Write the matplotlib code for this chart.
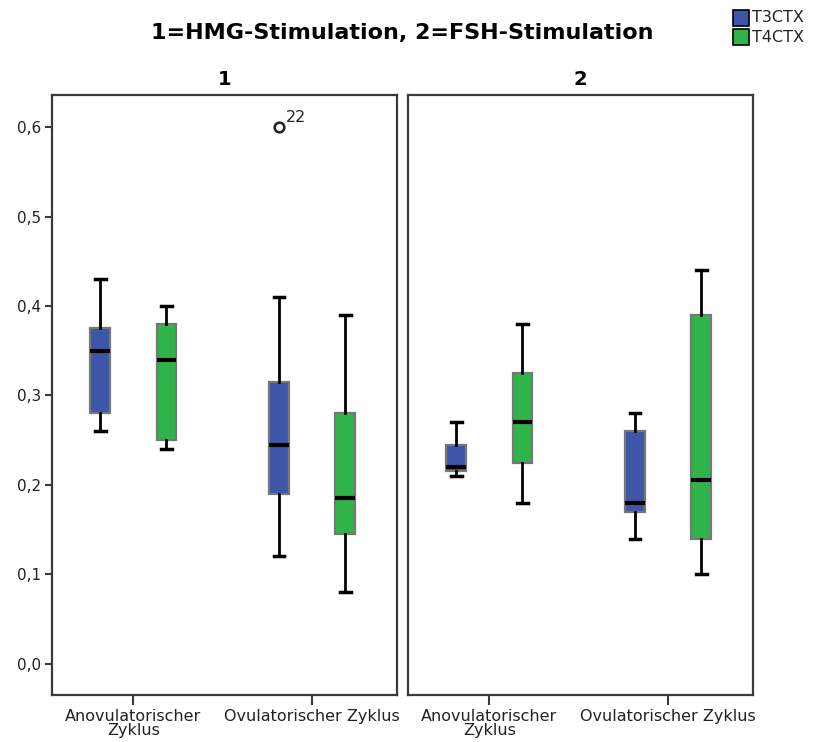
import matplotlib
matplotlib.use("Agg")
import matplotlib.pyplot as plt
from matplotlib.patches import Rectangle

plt.rcParams['font.family'] = ['DejaVu Sans']

# five-number summaries per panel: (whisker low, Q1, median, Q3, whisker high)
categories = ["Anovulatorischer\nZyklus", "Ovulatorischer Zyklus"]
series = ["T3CTX", "T4CTX"]
colors = {"T3CTX": "#3D56A8", "T4CTX": "#30B44A"}

hmg_t3 = [(0.26, 0.28, 0.35, 0.375, 0.43), (0.12, 0.19, 0.245, 0.315, 0.41)]
hmg_t4 = [(0.24, 0.25, 0.34, 0.38, 0.40), (0.08, 0.145, 0.185, 0.28, 0.39)]
fsh_t3 = [(0.21, 0.215, 0.22, 0.245, 0.27), (0.14, 0.17, 0.18, 0.26, 0.28)]
fsh_t4 = [(0.18, 0.225, 0.27, 0.325, 0.38), (0.10, 0.14, 0.205, 0.39, 0.44)]

# outliers: (panel, category index, series, value, case label)
outliers = [(0, 1, "T3CTX", 0.60, "22")]

panels = [("1", {"T3CTX": hmg_t3, "T4CTX": hmg_t4}),
          ("2", {"T3CTX": fsh_t3, "T4CTX": fsh_t4})]

W, H = 836, 742
fig = plt.figure(figsize=(W / 100, H / 100), dpi=100)

offsets = {"T3CTX": -0.185, "T4CTX": 0.185}
edge = "#3a3a3a"
txt = "#222222"

axes = []
for p, (ptitle, data) in enumerate(panels):
    left = (52 if p == 0 else 408) / W
    ax = fig.add_axes([left, 47 / H, 345 / W, 600 / H])
    axes.append(ax)
    for s in series:
        stats = []
        for c in range(len(categories)):
            lo, q1, med, q3, hi = data[s][c]
            fl = [o[3] for o in outliers if o[0] == p and o[1] == c and o[2] == s]
            stats.append(dict(whislo=lo, q1=q1, med=med, q3=q3, whishi=hi, fliers=fl))
        pos = [c + offsets[s] for c in range(len(categories))]
        ax.bxp(stats, positions=pos, widths=0.11, capwidths=0.06, patch_artist=True,
               manage_ticks=False,
               boxprops=dict(facecolor=colors[s], edgecolor="#777777", linewidth=1.6),
               medianprops=dict(color="black", linewidth=3, solid_capstyle="butt"),
               whiskerprops=dict(color="black", linewidth=2),
               capprops=dict(color="black", linewidth=2.5),
               flierprops=dict(marker="o", markerfacecolor="white", markeredgecolor=txt,
                               markersize=7, markeredgewidth=1.8))
    for (op, oc, osr, ov, olab) in outliers:
        if op == p:
            ax.annotate(olab, (oc + offsets[osr], ov), xytext=(5, 4),
                        textcoords="offset points", fontsize=11.5, color=txt)

    ax.set_xlim(-0.455, 1.475)
    ax.set_ylim(-0.035, 0.636)
    ax.set_xticks(range(len(categories)))
    ax.set_xticklabels(categories, fontsize=11.5, color=txt, linespacing=0.9)
    ax.tick_params(axis="x", length=7, width=1.5, color=edge, pad=3)
    ax.set_title(ptitle, fontsize=14, fontweight="bold", pad=7)
    for sp in ax.spines.values():
        sp.set_color(edge)
        sp.set_linewidth(1.6)
    if p == 0:
        yt = [0.0, 0.1, 0.2, 0.3, 0.4, 0.5, 0.6]
        ax.set_yticks(yt)
        ax.set_yticklabels([f"{v:.1f}".replace(".", ",") for v in yt],
                           fontsize=11, color=txt)
        ax.tick_params(axis="y", length=5, width=1.5, color=edge, pad=3)
    else:
        ax.set_yticks([])

fig.text(402 / W, 1 - 33 / H, "1=HMG-Stimulation, 2=FSH-Stimulation",
         ha="center", va="center", fontsize=16, fontweight="bold")

# legend in the top right corner
for i, s in enumerate(series):
    y = 1 - (18 + 19 * i) / H
    fig.patches.append(Rectangle((733 / W, y - 8 / H), 16 / W, 16 / H,
                                 transform=fig.transFigure, facecolor=colors[s],
                                 edgecolor="black", linewidth=1.2))
    fig.text(752 / W, y, s, ha="left", va="center", fontsize=11.5, color=txt)

fig.savefig("out.png", dpi=100)
